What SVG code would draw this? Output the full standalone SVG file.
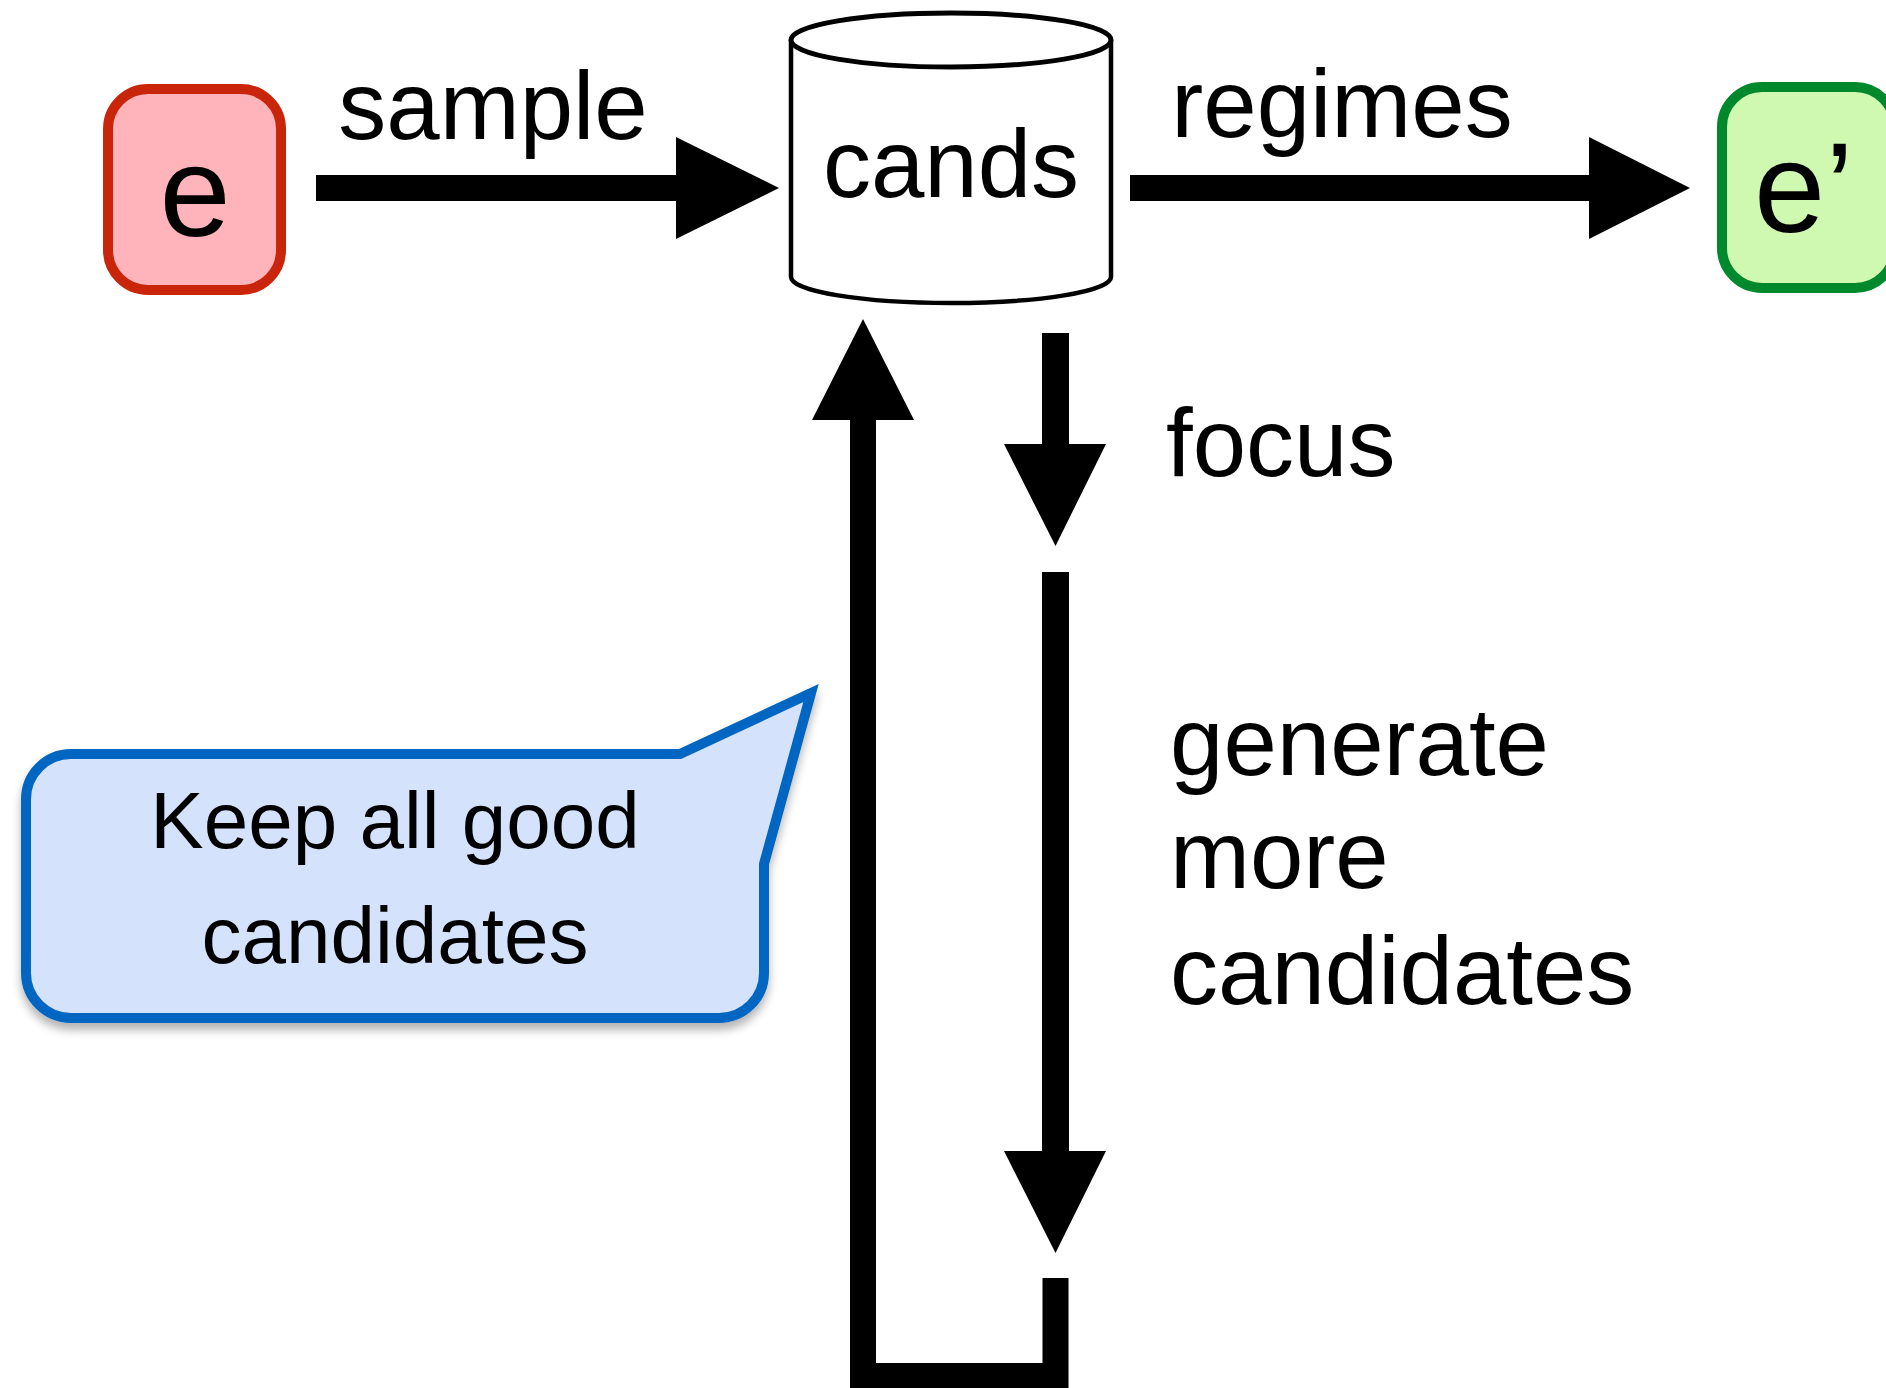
<svg xmlns="http://www.w3.org/2000/svg" width="1886" height="1388" viewBox="0 0 1886 1388">
  <style>
    .lbl { font-family: "Liberation Sans", Arial, Helvetica, sans-serif; fill: #000; }
    .big { font-size: 96px; }
    .node-text { font-size: 128px; }
    .note { font-size: 80px; }
    .arrow { fill: #000; }
  </style>
  <defs>
    <filter id="drop" x="-10%" y="-10%" width="120%" height="130%">
      <feGaussianBlur in="SourceAlpha" stdDeviation="5"/>
      <feOffset dx="0" dy="7" result="b"/>
      <feComponentTransfer><feFuncA type="linear" slope="0.3"/></feComponentTransfer>
      <feMerge><feMergeNode/><feMergeNode in="SourceGraphic"/></feMerge>
    </filter>
  </defs>
  <rect width="1886" height="1388" fill="#fff"/>

  <!-- start expression -->
  <g id="node-e">
    <rect x="108" y="89" width="173" height="201" rx="40" ry="40" fill="#FFB3BB" stroke="#C8250A" stroke-width="10"/>
    <text class="lbl node-text" x="195" y="236" text-anchor="middle">e</text>
  </g>

  <!-- candidate store -->
  <g id="node-cands">
    <path d="M791,40 V277 A160,26 0 0 0 1111,277 V40" fill="#fff" stroke="#000" stroke-width="4.5"/>
    <ellipse cx="951" cy="40" rx="160" ry="27" fill="#fff" stroke="#000" stroke-width="5"/>
    <text class="lbl big" x="951" y="197" text-anchor="middle">cands</text>
  </g>

  <!-- result expression -->
  <g id="node-e-prime">
    <rect x="1722" y="87" width="173" height="201" rx="40" ry="40" fill="#CFF9B0" stroke="#00882C" stroke-width="10"/>
    <text class="lbl node-text" x="1754" y="232">e’</text>
  </g>

  <!-- callout -->
  <g id="note-keep">
    <path d="M71,754 H680 L811,693 L764,864 V973 A45,45 0 0 1 719,1018 H71 A45,45 0 0 1 26,973 V799 A45,45 0 0 1 71,754 Z" fill="#D4E2FB" stroke="#0566C1" stroke-width="10" stroke-linejoin="miter" filter="url(#drop)"/>
    <text class="lbl note" x="395" y="848" text-anchor="middle">Keep all good</text>
    <text class="lbl note" x="395" y="963" text-anchor="middle">candidates</text>
  </g>

  <!-- connectors -->
  <g id="connectors">
    <!-- sample -->
    <rect class="arrow" x="316" y="175" width="362" height="26"/>
    <polygon class="arrow" points="676,137 779,188 676,239"/>
    <!-- regimes -->
    <rect class="arrow" x="1130" y="175" width="461" height="26"/>
    <polygon class="arrow" points="1589,137 1690,188 1589,239"/>
    <!-- focus -->
    <rect class="arrow" x="1042" y="333" width="27" height="113"/>
    <polygon class="arrow" points="1004,444 1106,444 1055.5,546"/>
    <!-- generate more candidates -->
    <rect class="arrow" x="1042" y="572" width="27" height="581"/>
    <polygon class="arrow" points="1004,1151 1106,1151 1055.5,1253"/>
    <!-- feedback loop -->
    <polyline points="1055.5,1278 1055.5,1376 863,1376 863,418" fill="none" stroke="#000" stroke-width="26" stroke-linejoin="miter"/>
    <polygon class="arrow" points="812,420 914,420 863,319"/>
  </g>

  <!-- edge labels -->
  <g id="labels">
    <text class="lbl big" x="493" y="139" text-anchor="middle">sample</text>
    <text class="lbl big" x="1342" y="137" text-anchor="middle">regimes</text>
    <text class="lbl big" x="1166" y="476">focus</text>
    <text class="lbl big" x="1170" y="775">generate</text>
    <text class="lbl big" x="1170" y="888">more</text>
    <text class="lbl big" x="1170" y="1004">candidates</text>
  </g>
</svg>
